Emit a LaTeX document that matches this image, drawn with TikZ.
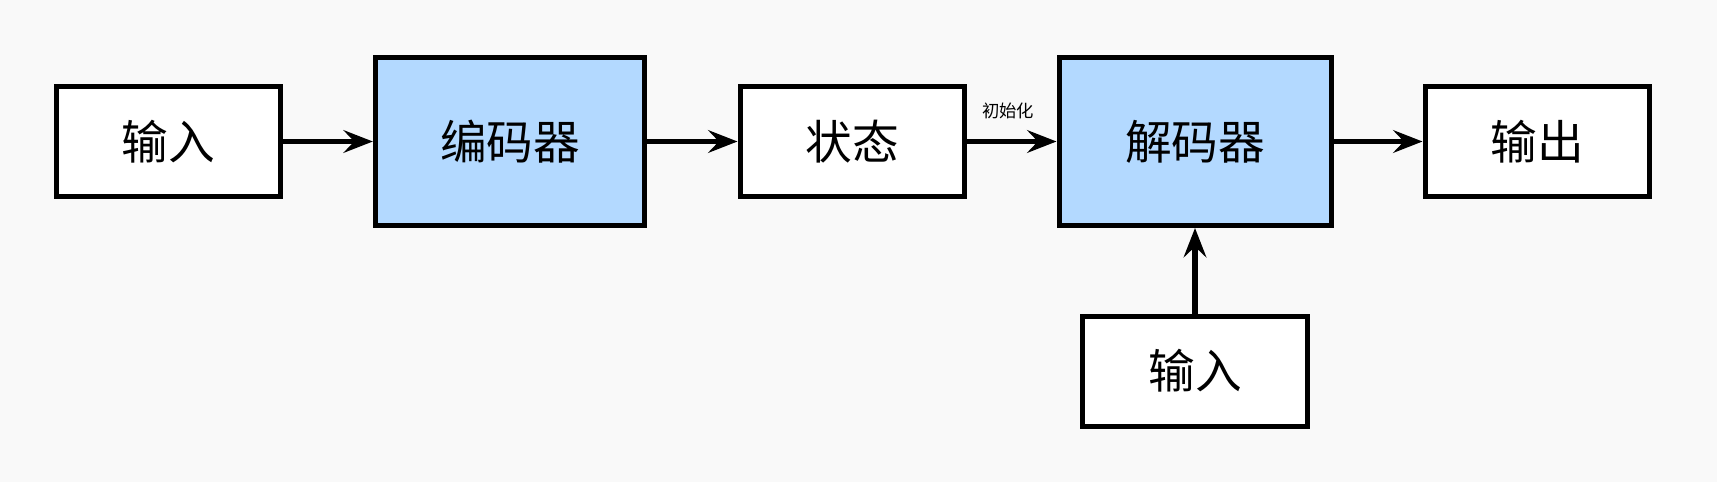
\documentclass[tikz,border=0pt]{standalone}
\usepackage{fontspec}
\setmainfont{Noto Sans CJK SC}
\usetikzlibrary{arrows.meta}
\definecolor{bgc}{RGB}{249,249,249}
\definecolor{bluefill}{RGB}{179,217,255}
\tikzset{
  box/.style={draw=black, line width=3.75pt, fill=white, inner sep=0pt, font=\fontsize{35}{40}\selectfont},
  smallbox/.style={box, minimum width=168pt, minimum height=82.5pt},
  bigbox/.style={box, fill=bluefill, minimum width=202pt, minimum height=126pt},
  conn/.style={line width=4pt, -{Stealth[length=22pt,width=17pt,inset=8pt]}},
  lbl/.style={font=\fontsize{13}{15}\selectfont, inner sep=0pt}
}
\begin{document}
\begin{tikzpicture}[x=0.75pt,y=-0.75pt]
\fill[bgc] (0,0) rectangle (1717,482);
\useasboundingbox (0,0) rectangle (1717,482);
\node[smallbox] (in1) at (168,141.5) {输入};
\node[bigbox] (enc) at (510,141.5) {编码器};
\node[smallbox] (st) at (852,141.5) {状态};
\node[bigbox, minimum width=204pt] (dec) at (1195,141.5) {解码器};
\node[smallbox] (out) at (1537,141.5) {输出};
\node[smallbox, minimum width=169pt] (in2) at (1195,371) {输入};
\node[lbl] (init) at (1008,111) {初始化};
\draw[conn] (in1.east) -- (enc.west);
\draw[conn] (enc.east) -- (st.west);
\draw[conn] (st.east) -- (dec.west);
\draw[conn] (dec.east) -- (out.west);
\draw[conn] (in2.north) -- (dec.south);
\end{tikzpicture}
\end{document}
